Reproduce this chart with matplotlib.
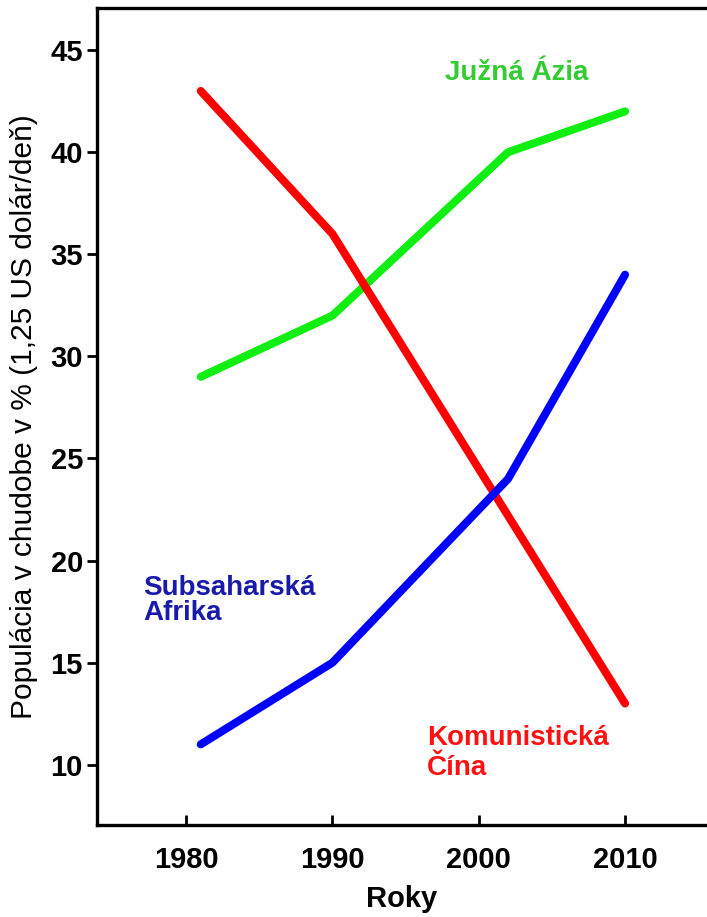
import matplotlib
matplotlib.use("Agg")
import matplotlib.pyplot as plt

years = [1981, 1990, 2002, 2010]
south_asia = [29, 32, 40, 42]
subsaharan = [11, 15, 24, 34]
china = [43, 36, 22.2, 13]

xticks = [1980, 1990, 2000, 2010]
yticks = [10, 15, 20, 25, 30, 35, 40, 45]

fig = plt.figure(figsize=(7.07, 9.17), dpi=100)
ax = fig.add_axes([0.137, 0.1003, 0.863, 0.8907])

lw = 5.8
ax.plot(years, china, color="#ff0000", lw=lw, solid_capstyle="round", solid_joinstyle="round", zorder=3)
ax.plot(years, south_asia, color="#11ee11", lw=lw, solid_capstyle="round", solid_joinstyle="round", zorder=2)
ax.plot(years, subsaharan, color="#0000ff", lw=lw, solid_capstyle="round", solid_joinstyle="round", zorder=4)

ax.set_xlim(1973.9, 2015.6)
ax.set_ylim(7.05, 47.05)
ax.set_xticks(xticks)
ax.set_yticks(yticks)

bold = dict(family=["Liberation Sans", "DejaVu Sans"], weight="bold")
ax.set_xticklabels([str(t) for t in xticks], fontsize=21, **bold)
ax.set_yticklabels([str(t) for t in yticks], fontsize=21, **bold)
ax.tick_params(axis="x", direction="in", length=7, width=2, pad=15)
ax.tick_params(axis="y", direction="out", length=7, width=2, pad=3)

for s in ["left", "bottom", "top"]:
    ax.spines[s].set_linewidth(2.4)
ax.spines["right"].set_visible(False)

ax.set_xlabel("Roky", fontsize=21, labelpad=8, **bold)
ax.set_ylabel("Populácia v chudobe v % (1,25 US dolár/deň)", fontsize=21.5,
              family=["Liberation Sans", "DejaVu Sans"])
ax.yaxis.set_label_coords(-0.097, 0.5)

ax.text(2002.6, 43.53, "Južná Ázia", color="#33cc33", fontsize=20, ha="center", va="baseline", **bold)
ax.text(1977.06, 18.32, "Subsaharská", color="#1a1aaa", fontsize=20, ha="left", va="baseline", **bold)
ax.text(1977.06, 17.10, "Afrika", color="#1a1aaa", fontsize=20, ha="left", va="baseline", **bold)
ax.text(1996.45, 10.98, "Komunistická", color="#ff1111", fontsize=20, ha="left", va="baseline", **bold)
ax.text(1996.45, 9.51, "Čína", color="#ff1111", fontsize=20, ha="left", va="baseline", **bold)

fig.savefig("out.png", dpi=100)
